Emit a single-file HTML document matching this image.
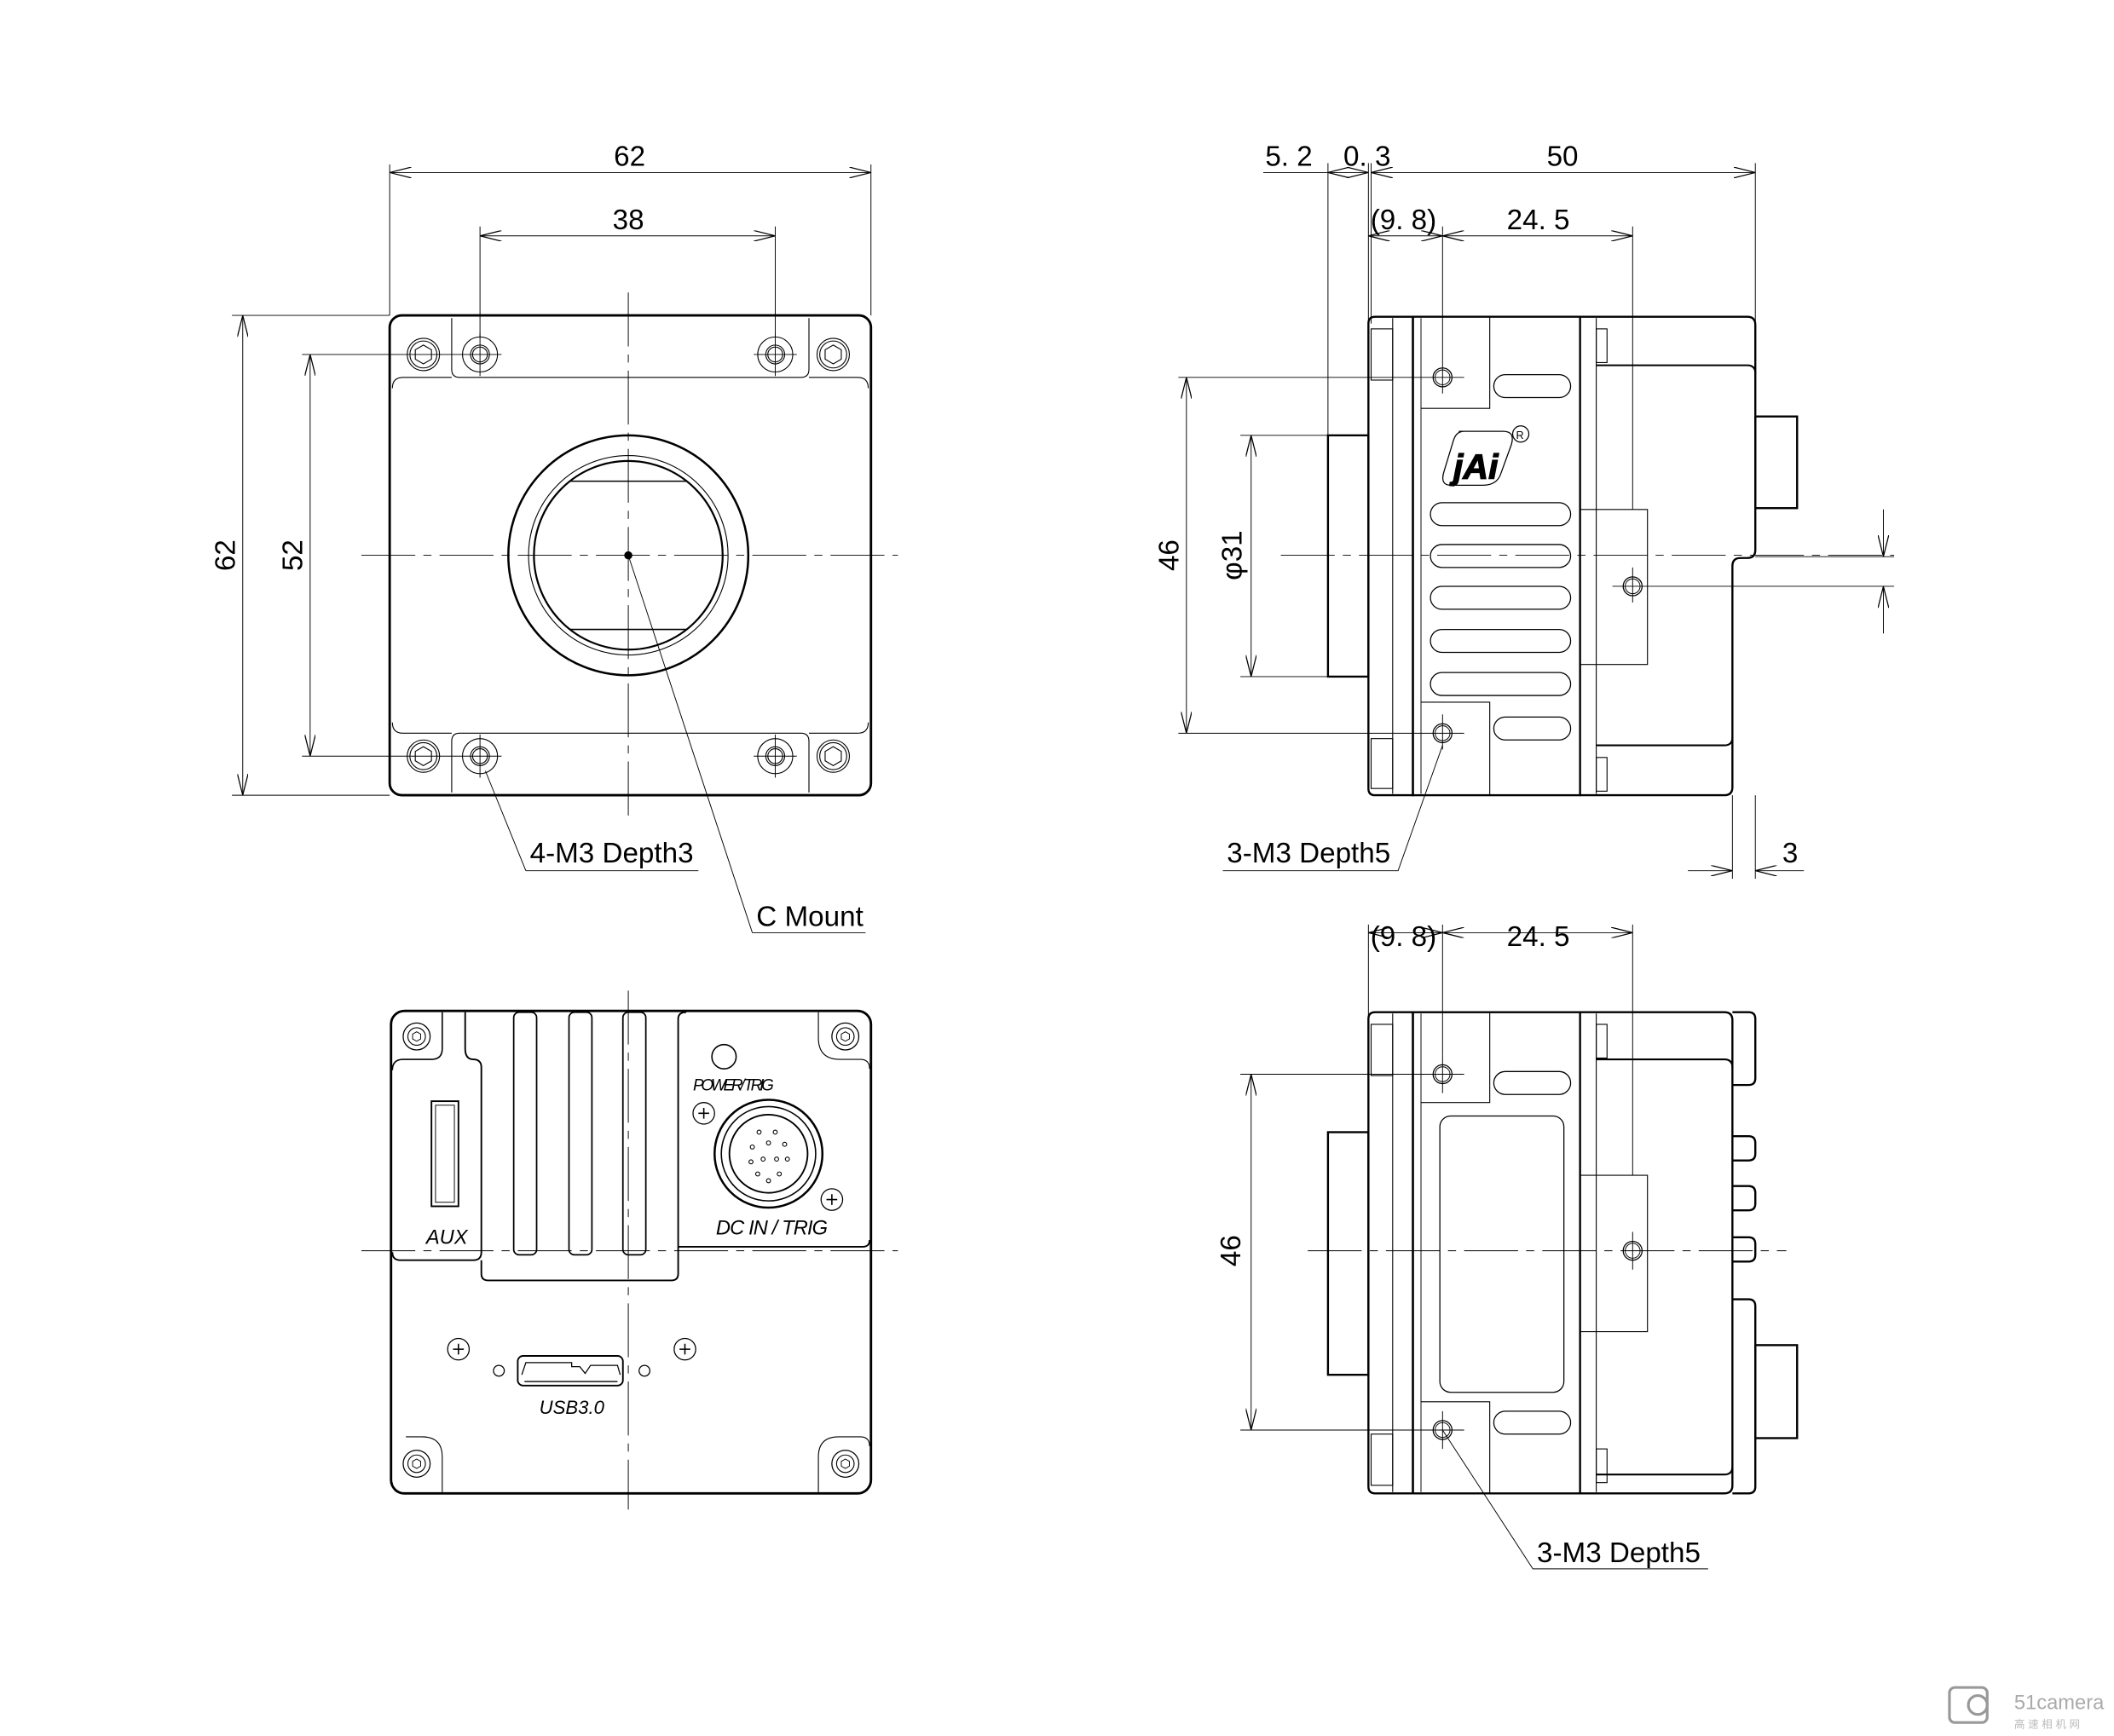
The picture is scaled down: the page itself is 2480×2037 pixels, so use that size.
<!DOCTYPE html>
<html><head><meta charset="utf-8"><style>
html,body{margin:0;padding:0;background:#fff;}
svg{display:block;}
text{font-family:"Liberation Sans",sans-serif;fill:#000;}
.d{font-size:21px;}
.i{font-style:italic;}
</style></head><body>
<svg width="2480" height="2037" viewBox="0 0 1568 1288" xmlns="http://www.w3.org/2000/svg">
<defs>
<marker id="a" viewBox="0 0 16 8" refX="16" refY="4" markerWidth="16" markerHeight="8" markerUnits="userSpaceOnUse" orient="auto-start-reverse">
<path d="M0,0 L16,4 L0,8" fill="none" stroke="#000" stroke-width="0.8"/>
</marker>
<g id="hole"><circle r="13" fill="none" stroke="#000" stroke-width="0.7"/><circle r="7" fill="none" stroke="#000" stroke-width="0.7"/><circle r="5.5" fill="none" stroke="#000" stroke-width="0.7"/></g>
<g id="hex"><circle r="12" fill="none" stroke="#000" stroke-width="0.7"/><circle r="10" fill="none" stroke="#000" stroke-width="0.7"/><path d="M0,-7 L6,-3.5 L6,3.5 L0,7 L-6,3.5 L-6,-3.5Z" fill="none" stroke="#000" stroke-width="0.7"/></g>
<g id="sh"><circle r="10" fill="none" stroke="#000" stroke-width="0.8"/><circle r="6.5" fill="none" stroke="#000" stroke-width="0.7"/><path d="M0,-3.5 L3,-1.8 L3,1.8 L0,3.5 L-3,1.8 L-3,-1.8Z" fill="none" stroke="#000" stroke-width="0.6"/></g>
<g id="ph"><circle r="8" fill="none" stroke="#000" stroke-width="0.8"/><path d="M-4,0 H4 M0,-4 V4" stroke="#000" stroke-width="1"/></g>
<g id="sm"><circle r="7" fill="none" stroke="#000" stroke-width="0.8"/><circle r="5.5" fill="none" stroke="#000" stroke-width="0.6"/></g>
</defs>
<rect width="1568" height="1288" fill="#fff"/>

<!-- ===== FRONT VIEW ===== -->
<g fill="none" stroke="#000">
<rect x="289" y="234" width="357" height="356" rx="9" stroke-width="1.8"/>
<path d="M335,236 V274 Q335,280 341,280 H594 Q600,280 600,274 V236" stroke-width="0.7"/>
<path d="M291,288 Q291,280 299,280 H335 M600,280 H636 Q644,280 644,288" stroke-width="0.7"/>
<path d="M335,588 V550 Q335,544 341,544 H594 Q600,544 600,550 V588" stroke-width="0.7"/>
<path d="M291,536 Q291,544 299,544 H335 M600,544 H636 Q644,544 644,536" stroke-width="0.7"/>
<circle cx="466" cy="412" r="89" stroke-width="1.6"/>
<circle cx="466" cy="412" r="74" stroke-width="0.7"/>
<circle cx="466" cy="412" r="70" stroke-width="1.4"/>
<path d="M423,357 H509 M423,467 H509" stroke-width="1"/>
</g>
<circle cx="466" cy="412" r="3" fill="#000"/>
<use href="#hole" x="356" y="263"/><use href="#hole" x="575" y="263"/>
<use href="#hole" x="356" y="561"/><use href="#hole" x="575" y="561"/>
<use href="#hex" x="314" y="263"/><use href="#hex" x="618" y="263"/>
<use href="#hex" x="314" y="561"/><use href="#hex" x="618" y="561"/>
<g stroke="#000" stroke-width="0.6" fill="none">
<path d="M268,412 H666" stroke-dasharray="40,6,6,6"/>
<path d="M466,217 V608" stroke-dasharray="40,6,6,6"/>
<path d="M340,263 H372 M356,247 V279 M559,263 H591 M575,247 V279 M340,561 H372 M356,545 V577 M559,561 H591 M575,545 V577"/>
<path d="M289,234 V122 M646,234 V122 M356,250 V168 M575,250 V168"/>
<path d="M289,128 H646" marker-start="url(#a)" marker-end="url(#a)"/>
<path d="M356,175 H575" marker-start="url(#a)" marker-end="url(#a)"/>
<path d="M289,234 H172 M289,590 H172 M340,263 H224 M340,561 H224"/>
<path d="M180,234 V590" marker-start="url(#a)" marker-end="url(#a)"/>
<path d="M230,263 V561" marker-start="url(#a)" marker-end="url(#a)"/>
<path d="M390,646 H518 M390,646 L360,572" />
<path d="M558,692 H642 M558,692 L466,412"/>
</g>
<text class="d" x="467" y="123" text-anchor="middle">62</text>
<text class="d" x="466" y="170" text-anchor="middle">38</text>
<text class="d" transform="translate(174,412) rotate(-90)" text-anchor="middle">62</text>
<text class="d" transform="translate(224,412) rotate(-90)" text-anchor="middle">52</text>
<text class="d" x="393" y="640">4-M3 Depth3</text>
<text class="d" x="561" y="687">C Mount</text>

<!-- ===== SIDE VIEW TOP ===== -->
<g fill="none" stroke="#000">
<rect x="985" y="323" width="30" height="179" stroke-width="1.5"/>
<path d="M1020,235 H1048 V590 H1020 Q1015,590 1015,585 V240 Q1015,235 1020,235Z" stroke-width="1.5"/>
<path d="M1033,236 V589" stroke-width="0.7"/>
<rect x="1017" y="244" width="16" height="38" stroke-width="0.7"/>
<rect x="1017" y="548" width="16" height="37" stroke-width="0.7"/>
<rect x="1048" y="235" width="124" height="355" stroke-width="1.5"/>
<path d="M1054,236 V589" stroke-width="0.6"/>
<path d="M1054,303 H1105 V235 M1054,521 H1105 V590" stroke-width="0.7"/>
<path d="M1172,235 H1296 Q1302,235 1302,241 V408 Q1302,414 1296,414 H1291 Q1285,414 1285,420 V584 Q1285,590 1279,590 H1172" stroke-width="1.5"/>
<path d="M1184,271 H1296 Q1302,271 1302,277" stroke-width="1.3"/>
<path d="M1184,553 H1279 Q1285,553 1285,547" stroke-width="1.3"/>
<path d="M1184,236 V589" stroke-width="0.7"/>
<rect x="1184" y="244" width="8" height="25" stroke-width="0.7"/>
<rect x="1184" y="562" width="8" height="25" stroke-width="0.7"/>
<rect x="1302" y="309" width="31" height="68" stroke-width="1.5"/>
<path d="M1172,378 H1222 V493 H1172" stroke-width="0.7"/>
<g stroke-width="0.8">
<rect x="1108" y="278" width="57" height="17" rx="8.5"/>
<rect x="1061" y="373" width="104" height="17" rx="8.5"/>
<rect x="1061" y="404" width="104" height="17" rx="8.5"/>
<rect x="1061" y="435" width="104" height="17" rx="8.5"/>
<rect x="1061" y="467" width="104" height="17" rx="8.5"/>
<rect x="1061" y="499" width="104" height="17" rx="8.5"/>
<rect x="1108" y="532" width="57" height="17" rx="8.5"/>
<path d="M1082,320 H1115 Q1124,320 1121,330 L1113,352 Q1110,360 1100,360 H1076 Q1068,360 1071,350 L1078,327 Q1080,320 1086,320Z"/>
<circle cx="1128" cy="322" r="6"/>
</g>
</g>
<text x="1078" y="355" font-size="26" font-style="italic" font-weight="bold" fill="none" stroke="#000" stroke-width="0.8">jAi</text>
<text x="1124.5" y="325.5" font-size="8">R</text>
<use href="#sm" x="1070" y="280"/><use href="#sm" x="1070" y="544"/><use href="#sm" x="1211" y="435"/>
<g stroke="#000" stroke-width="0.6" fill="none">
<path d="M950,412 H1405" stroke-dasharray="40,6,6,6"/>
<path d="M1070,266 V292 M1070,530 V556 M1211,421 V447"/>
<path d="M874,280 H1086 M874,544 H1086 M920,323 H985 M920,502 H985 M1196,435 H1405 M1302,413 H1405"/>
<path d="M880,280 V544" marker-start="url(#a)" marker-end="url(#a)"/>
<path d="M928,323 V502" marker-start="url(#a)" marker-end="url(#a)"/>
<path d="M1397,378 V413" marker-end="url(#a)"/>
<path d="M1397,470 V435" marker-end="url(#a)"/>
<path d="M985,323 V121 M1015,240 V121 M1017,240 V121 M1302,240 V121"/>
<path d="M985,128 H937"/>
<path d="M985,128 H1015" marker-start="url(#a)" marker-end="url(#a)"/>
<path d="M1017,128 H1302" marker-start="url(#a)" marker-end="url(#a)"/>
<path d="M1070,266 V168 M1211,378 V168"/>
<path d="M1015,175 H1070" marker-start="url(#a)" marker-end="url(#a)"/>
<path d="M1070,175 H1211" marker-start="url(#a)" marker-end="url(#a)"/>
<path d="M1285,590 V652 M1302,590 V652"/>
<path d="M1252,646 H1285" marker-end="url(#a)"/>
<path d="M1338,646 H1302" marker-end="url(#a)"/>
<path d="M907,646 H1037 L1070,553"/>
</g>
<text class="d" x="956" y="123" text-anchor="middle">5. 2</text>
<text class="d" x="1014" y="123" text-anchor="middle">0. 3</text>
<text class="d" x="1159" y="123" text-anchor="middle">50</text>
<text class="d" x="1041" y="170" text-anchor="middle">(9. 8)</text>
<text class="d" x="1141" y="170" text-anchor="middle">24. 5</text>
<text class="d" transform="translate(874,412) rotate(-90)" text-anchor="middle">46</text>
<text class="d" transform="translate(921,412) rotate(-90)" text-anchor="middle">φ31</text>
<text class="d" x="1322" y="640">3</text>
<text class="d" x="910" y="640">3-M3 Depth5</text>

<!-- ===== SIDE VIEW BOTTOM ===== -->
<g fill="none" stroke="#000">
<rect x="985" y="840" width="30" height="180" stroke-width="1.5"/>
<path d="M1020,751 H1048 V1108 H1020 Q1015,1108 1015,1103 V756 Q1015,751 1020,751Z" stroke-width="1.5"/>
<path d="M1033,752 V1107" stroke-width="0.7"/>
<rect x="1017" y="760" width="16" height="38" stroke-width="0.7"/>
<rect x="1017" y="1064" width="16" height="38" stroke-width="0.7"/>
<rect x="1048" y="751" width="124" height="357" stroke-width="1.5"/>
<path d="M1054,752 V1107" stroke-width="0.6"/>
<path d="M1054,818 H1105 V751 M1054,1040 H1105 V1108" stroke-width="0.7"/>
<rect x="1068" y="828" width="92" height="205" rx="8" stroke-width="0.8"/>
<path d="M1172,751 H1279 Q1285,751 1285,757 V1102 Q1285,1108 1279,1108 H1172" stroke-width="1.5"/>
<path d="M1184,786 H1279 Q1285,786 1285,792 M1184,1094 H1279 Q1285,1094 1285,1088" stroke-width="1.3"/>
<path d="M1184,752 V1107" stroke-width="0.7"/>
<rect x="1184" y="760" width="8" height="25" stroke-width="0.7"/>
<rect x="1184" y="1075" width="8" height="25" stroke-width="0.7"/>
<path d="M1285,751 H1297 Q1302,751 1302,756 V800 Q1302,805 1297,805 H1285" stroke-width="1.5"/>
<path d="M1285,843 H1297 Q1302,843 1302,848 V856 Q1302,861 1297,861 H1285" stroke-width="1.5"/>
<path d="M1285,880 H1297 Q1302,880 1302,885 V893 Q1302,898 1297,898 H1285" stroke-width="1.5"/>
<path d="M1285,918 H1297 Q1302,918 1302,923 V931 Q1302,936 1297,936 H1285" stroke-width="1.5"/>
<path d="M1285,964 H1297 Q1302,964 1302,969 V1103 Q1302,1108 1297,1108 H1285" stroke-width="1.5"/>
<rect x="1302" y="998" width="31" height="69" stroke-width="1.5"/>
<path d="M1172,872 H1222 V988 H1172" stroke-width="0.7"/>
<rect x="1108" y="795" width="57" height="17" rx="8.5" stroke-width="0.8"/>
<rect x="1108" y="1047" width="57" height="17" rx="8.5" stroke-width="0.8"/>
</g>
<use href="#sm" x="1070" y="797"/><use href="#sm" x="1070" y="1061"/><use href="#sm" x="1211" y="928"/>
<g stroke="#000" stroke-width="0.6" fill="none">
<path d="M970,928 H1325" stroke-dasharray="40,6,6,6"/>
<path d="M1070,783 V811 M1070,1047 V1075 M1211,914 V942"/>
<path d="M920,797 H1086 M920,1061 H1086"/>
<path d="M928,797 V1061" marker-start="url(#a)" marker-end="url(#a)"/>
<path d="M1015,756 V686 M1070,783 V686 M1211,872 V686"/>
<path d="M1015,692 H1070" marker-start="url(#a)" marker-end="url(#a)"/>
<path d="M1070,692 H1211" marker-start="url(#a)" marker-end="url(#a)"/>
<path d="M1267,1164 H1137 L1070,1061"/>
</g>
<text class="d" x="1041" y="702" text-anchor="middle">(9. 8)</text>
<text class="d" x="1141" y="702" text-anchor="middle">24. 5</text>
<text class="d" transform="translate(920,928) rotate(-90)" text-anchor="middle">46</text>
<text class="d" x="1140" y="1159">3-M3 Depth5</text>

<!-- ===== BACK VIEW ===== -->
<g fill="none" stroke="#000">
<rect x="290" y="750" width="356" height="358" rx="10" stroke-width="1.8"/>
<path d="M328,751 V778 Q328,786 320,786 H299 Q291,786 291,794" stroke-width="1"/>
<path d="M345,751 V778 Q345,786 351,786 Q357,786 357,792 V929 Q357,935 351,935 H297 Q291,935 291,929" stroke-width="1.2"/>
<path d="M357,935 V945 Q357,950 362,950 H498 Q503,950 503,945 V756 Q503,751 509,751" stroke-width="1.2"/>
<path d="M503,925 H640 Q645,925 645,920" stroke-width="1.2"/>
<path d="M607,751 V770 Q607,786 623,786 H638 Q645,786 645,793" stroke-width="0.7"/>
<rect x="381" y="751" width="17" height="180" rx="4" stroke-width="1.1"/>
<rect x="422" y="751" width="17" height="180" rx="4" stroke-width="1.1"/>
<rect x="462" y="751" width="17" height="180" rx="4" stroke-width="1.1"/>
<rect x="320" y="817" width="20" height="78" stroke-width="1.2"/>
<rect x="323" y="820" width="14" height="72" stroke-width="0.6"/>
<circle cx="537" cy="784" r="9" stroke-width="1"/>
<circle cx="570" cy="856" r="40" stroke-width="1.6"/>
<circle cx="570" cy="856" r="35" stroke-width="1"/>
<circle cx="570" cy="856" r="29" stroke-width="1.2"/>
<rect x="384" y="1006" width="78" height="22" rx="4" stroke-width="1.2"/>
<path d="M387,1020 L390,1011 H424 V1014 H430 L434,1019 L438,1013 H458 L460,1020 M389,1025 H458" stroke-width="0.8"/>
<circle cx="370" cy="1017" r="4" stroke-width="0.8"/>
<circle cx="478" cy="1017" r="4" stroke-width="0.8"/>
<path d="M299,1108 Q291,1108 291,1100 M301,1066 H313 Q328,1066 328,1081 V1107 M607,1107 V1081 Q607,1066 622,1066 H638 Q645,1066 645,1073" stroke-width="0.7"/>
</g>
<g fill="none" stroke="#000" stroke-width="0.7">
<circle cx="563" cy="840" r="1.5"/><circle cx="575" cy="840" r="1.5"/>
<circle cx="558" cy="851" r="1.5"/><circle cx="570" cy="848" r="1.5"/><circle cx="582" cy="849" r="1.5"/>
<circle cx="557" cy="862" r="1.5"/><circle cx="566" cy="860" r="1.5"/><circle cx="576" cy="860" r="1.5"/><circle cx="584" cy="860" r="1.5"/>
<circle cx="562" cy="871" r="1.5"/><circle cx="578" cy="871" r="1.5"/><circle cx="570" cy="876" r="1.5"/>
</g>
<use href="#ph" x="522" y="826"/><use href="#ph" x="617" y="890"/>
<use href="#ph" x="340" y="1001"/><use href="#ph" x="508" y="1001"/>
<use href="#sh" x="309" y="769"/><use href="#sh" x="627" y="769"/>
<use href="#sh" x="309" y="1086"/><use href="#sh" x="627" y="1086"/>
<g stroke="#000" stroke-width="0.6" fill="none">
<path d="M268,928 H666" stroke-dasharray="40,6,6,6"/>
<path d="M466,735 V1120" stroke-dasharray="40,6,6,6"/>
</g>
<text x="514" y="809" font-size="12" class="i" textLength="60">POWER/ TRIG</text>
<text x="531" y="916" font-size="15" class="i" textLength="83">DC IN / TRIG</text>
<text x="316" y="923" font-size="15" class="i">AUX</text>
<text x="400" y="1049" font-size="14" class="i">USB3.0</text>

<g stroke="#999" fill="none" stroke-width="2"><rect x="1446" y="1252" width="28" height="26" rx="4"/><circle cx="1467" cy="1265" r="7"/></g>
<text x="1494" y="1268" font-size="15" style="fill:#aaa">51camera</text>
<text x="1494" y="1282" font-size="8" style="fill:#bbb">高 速 相 机 网</text>
</svg>
</body></html>
